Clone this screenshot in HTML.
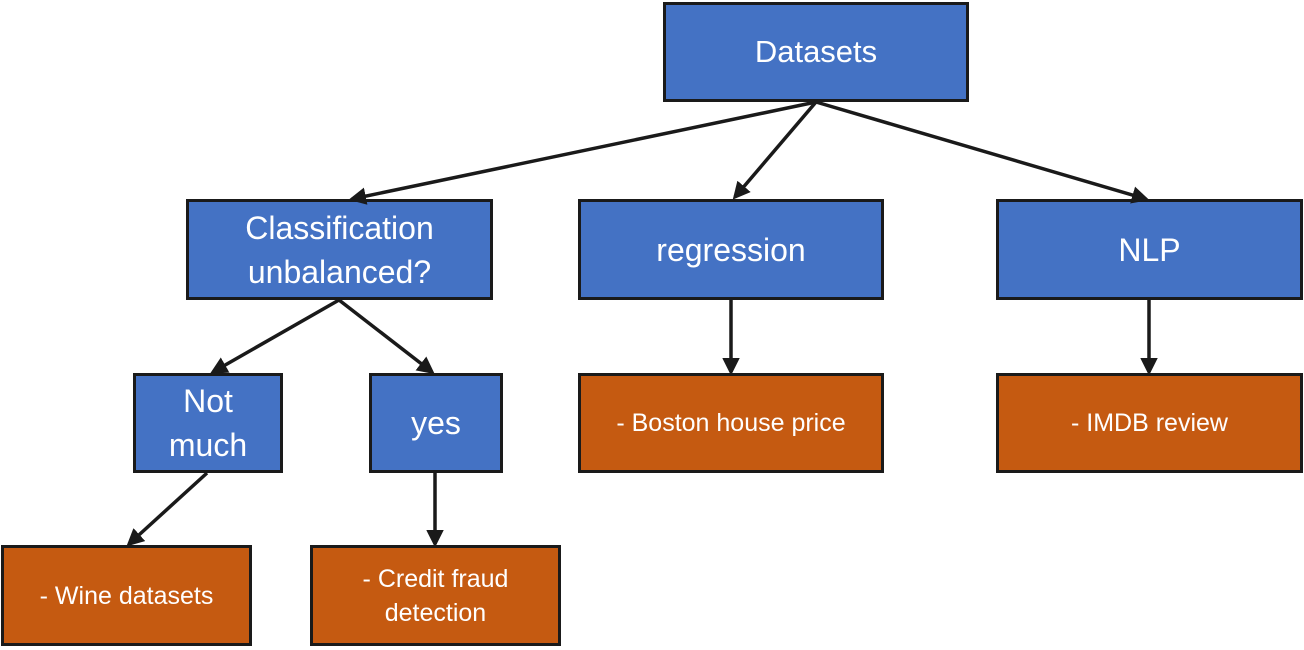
<!DOCTYPE html>
<html><head><meta charset="utf-8"><style>
html,body{margin:0;padding:0;background:#fff;width:1304px;height:650px;overflow:hidden}
.b{position:absolute;box-sizing:border-box;border:3px solid #1a1a1a;display:flex;align-items:center;justify-content:center;text-align:center;color:#fff;font-family:"Liberation Sans",sans-serif}
.bl{background:#4472C4;font-size:32px;line-height:44px}
.or{background:#C55A11;font-size:25px;line-height:34px}
svg{position:absolute;left:0;top:0}
</style></head><body>
<div class="b bl" style="left:663px;top:2px;width:306px;height:100px;font-size:31px">Datasets</div>
<div class="b bl" style="left:186px;top:199px;width:307px;height:101px">Classification<br>unbalanced?</div>
<div class="b bl" style="left:578px;top:199px;width:306px;height:101px">regression</div>
<div class="b bl" style="left:996px;top:199px;width:307px;height:101px">NLP</div>
<div class="b bl" style="left:133px;top:373px;width:150px;height:100px">Not<br>much</div>
<div class="b bl" style="left:369px;top:373px;width:134px;height:100px">yes</div>
<div class="b or" style="left:578px;top:373px;width:306px;height:100px">- Boston house price</div>
<div class="b or" style="left:996px;top:373px;width:307px;height:100px">- IMDB review</div>
<div class="b or" style="left:1px;top:545px;width:251px;height:101px">- Wine datasets</div>
<div class="b or" style="left:310px;top:545px;width:251px;height:101px">- Credit fraud<br>detection</div>
<svg width="1304" height="650">
<defs><marker id="a" markerWidth="5" markerHeight="5" refX="4" refY="2.5" orient="auto" markerUnits="strokeWidth"><path d="M0,0L5,2.5L0,5z" fill="#1a1a1a"/></marker></defs>
<g stroke="#1a1a1a" stroke-width="3.5" marker-end="url(#a)" fill="none">
<line x1="816" y1="102" x2="352" y2="199"/>
<line x1="816" y1="102" x2="735" y2="197"/>
<line x1="816" y1="102" x2="1146" y2="199"/>
<line x1="339" y1="300" x2="213" y2="372"/>
<line x1="339" y1="300" x2="432" y2="372"/>
<line x1="731" y1="300" x2="731" y2="372"/>
<line x1="1149" y1="300" x2="1149" y2="372"/>
<line x1="207" y1="473" x2="129" y2="544"/>
<line x1="435" y1="473" x2="435" y2="544"/>
</g></svg>
</body></html>
